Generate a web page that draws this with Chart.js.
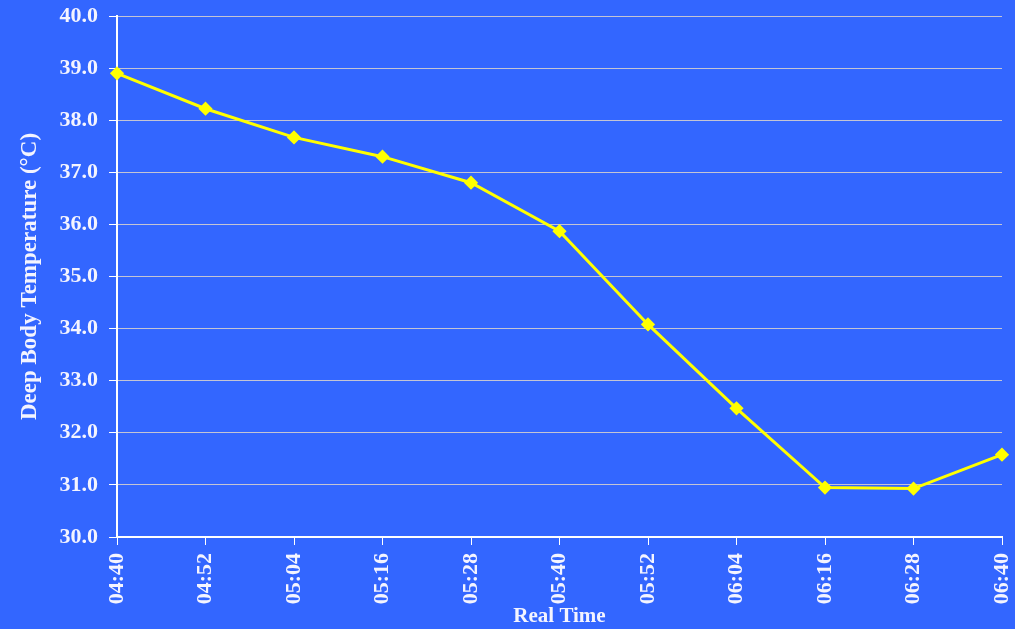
<!DOCTYPE html>
<html lang="en">
<head>
  <meta charset="UTF-8">
  <title>Deep Body Temperature</title>
  <script src="https://cdn.jsdelivr.net/npm/chart.js"></script>
  <style>
    body {
      margin: 0;
      padding: 0;
      background: #3366ff;
    }
    #wrap {
      width: 1015px;
      height: 629px;
    }
  </style>
</head>
<body>
  <div id="wrap"><canvas id="chart" width="1015" height="629"></canvas></div>

  <script>
    // Data
    const times = ['04:40', '04:52', '05:04', '05:16', '05:28', '05:40', '05:52', '06:04', '06:16', '06:28', '06:40'];
    const temps = [38.9, 38.22, 37.67, 37.3, 36.8, 35.87, 34.08, 32.47, 30.95, 30.93, 31.58];

    const serif = "'Liberation Serif', 'Times New Roman', serif";
    const labelColor = '#f4f4ff';

    new Chart(document.getElementById('chart'), {
      type: 'line',
      data: {
        labels: times,
        datasets: [{
          data: temps,
          borderColor: '#ffff00',
          backgroundColor: '#ffff00',
          borderWidth: 3,
          pointStyle: 'rectRot',
          pointRadius: 5,
          pointHoverRadius: 5,
          tension: 0,
        }]
      },
      options: {
        responsive: false,
        animation: false,
        layout: {
          padding: { top: 16, right: 13, left: 0, bottom: 0 }
        },
        plugins: {
          legend: { display: false },
          tooltip: { enabled: false }
        },
        scales: {
          x: {
            offset: false,
            border: { color: '#ffffff', width: 2 },
            grid: {
              drawOnChartArea: false,
              drawTicks: true,
              tickLength: 8,
              tickColor: '#ffffff',
            },
            ticks: {
              color: labelColor,
              minRotation: 90,
              maxRotation: 90,
              padding: 8,
              font: { family: serif, size: 22, weight: 'bold' }
            },
            title: {
              display: true,
              text: 'Real Time',
              color: labelColor,
              padding: 0,
              font: { family: serif, size: 21, weight: 'bold' }
            },
            afterFit(scale) {
              scale.height = 92;
              scale.paddingLeft = 0;
              scale.paddingRight = 0;
            }
          },
          y: {
            min: 30,
            max: 40,
            border: { color: '#ffffff', width: 2 },
            grid: {
              color: '#c4c4d4',
              lineWidth: 1,
              tickLength: 8,
              tickColor: '#ffffff',
            },
            ticks: {
              stepSize: 1,
              color: labelColor,
              padding: 11,
              font: { family: serif, size: 22, weight: 'bold' },
              callback: (v) => Number(v).toFixed(1)
            },
            title: {
              display: true,
              text: 'Deep Body Temperature (°C)',
              color: labelColor,
              padding: { top: 16, bottom: 0 },
              font: { family: serif, size: 23, weight: 'bold' }
            },
            afterFit(scale) {
              scale.width = 117;
              scale.paddingTop = 0;
              scale.paddingBottom = 0;
            }
          }
        }
      }
    });
  </script>
</body>
</html>
